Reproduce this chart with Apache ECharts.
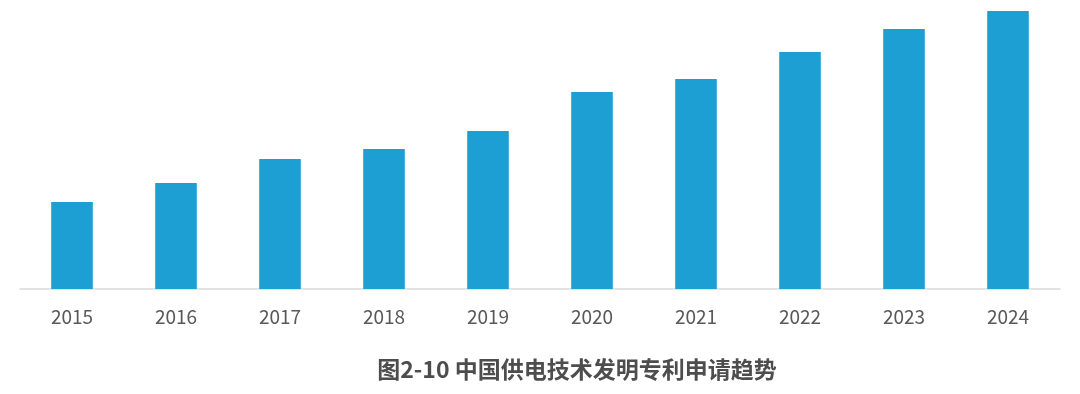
<!DOCTYPE html>
<html>
<head>
<meta charset="utf-8">
<script src="https://cdn.jsdelivr.net/npm/echarts@6/dist/echarts.min.js"></script>
<style>
html,body{margin:0;padding:0;background:#fff;}
#chart{width:1080px;height:394px;}
</style>
</head>
<body>
<div id="chart"></div>
<script>
const categories = ['2015','2016','2017','2018','2019','2020','2021','2022','2023','2024'];
const values = [87, 106, 130, 140, 158, 197, 210, 237, 260, 278];
const titleText = '图2-10 中国供电技术发明专利申请趋势';

const chart = echarts.init(document.getElementById('chart'), null, {renderer:'canvas'});
chart.setOption({
  backgroundColor:'#ffffff',
  animation:false,
  title:{
    text:titleText,
    left:572,
    top:353,
    textAlign:'center',
    textStyle:{fontFamily:'Noto Sans CJK SC', fontSize:23, fontWeight:'bold', color:'#4d4d4d'}
  },
  grid:{left:20, right:20, top:0, bottom:105, containLabel:false},
  xAxis:{
    type:'category',
    data:categories,
    axisLine:{show:true, lineStyle:{color:'#d9d9d9', width:1.5}},
    axisTick:{show:false},
    axisLabel:{margin:18, fontFamily:'Noto Sans CJK SC', fontSize:19, color:'#595959'}
  },
  yAxis:{
    type:'value', min:0, max:289, show:false, splitLine:{show:false}
  },
  series:[{
    type:'bar',
    data:values,
    barWidth:'40%',
    itemStyle:{color:'#1e9fd3'}
  }]
});
</script>
</body>
</html>
